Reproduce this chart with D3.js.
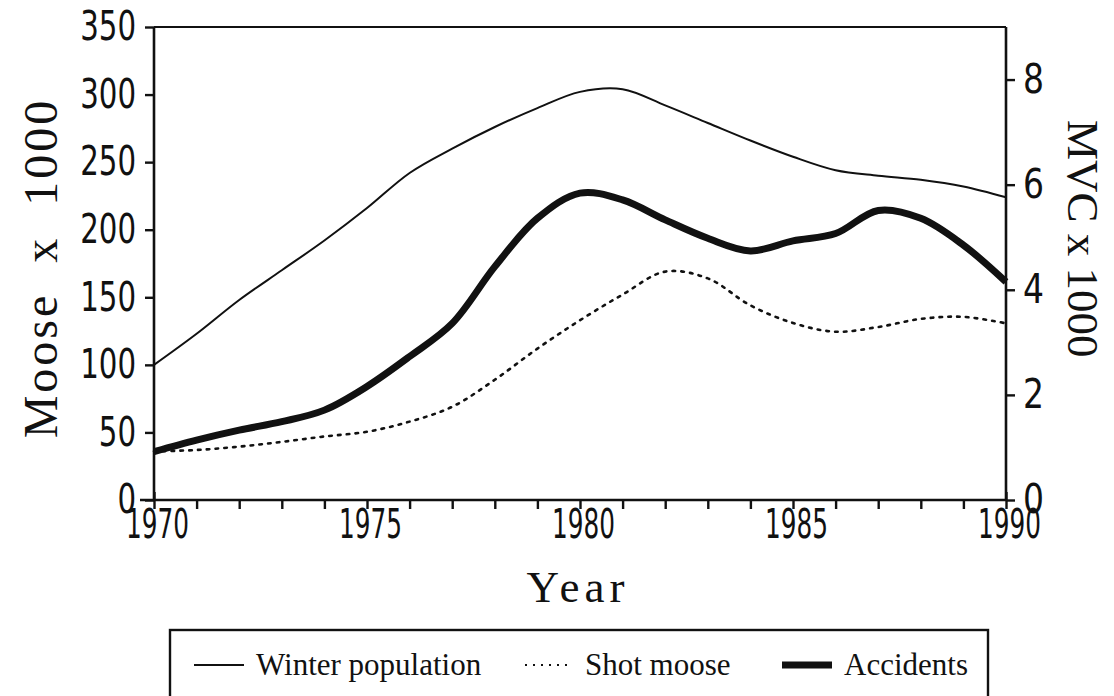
<!DOCTYPE html>
<html>
<head>
<meta charset="utf-8">
<script src="https://cdn.jsdelivr.net/npm/d3@7"></script>
<style>
  body { margin: 0; background: #fff; }
  svg { display: block; }
  .tick text { font-family: "DejaVu Sans Condensed", "DejaVu Sans", sans-serif; font-stretch: condensed; }
  .ttl { font-family: "Liberation Serif", "DejaVu Serif", serif; white-space: pre; }
</style>
</head>
<body>
<svg id="chart" width="1114" height="696"></svg>
<script>
// values (moose in thousands, MVC in thousands)
const years = [1970, 1971, 1972, 1973, 1974, 1975, 1976, 1977, 1978, 1979, 1980,
  1981, 1982, 1983, 1984, 1985, 1986, 1987, 1988, 1989, 1990];
const winterPop = [100, 123, 148, 170, 192, 216, 242, 260, 276, 290, 302,
  304, 292, 279, 266, 254, 244, 240, 237, 232, 224];
const shotMoose = [36, 37, 39.5, 43, 47, 50.5, 58, 69, 89, 112, 133,
  152, 169, 164, 144, 131, 124.5, 128, 134, 135.5, 130.7];
const accidents = [0.92, 1.14, 1.33, 1.49, 1.71, 2.16, 2.73, 3.36, 4.44, 5.36, 5.84,
  5.71, 5.33, 4.98, 4.74, 4.93, 5.07, 5.51, 5.36, 4.85, 4.15];

const leftTicks = [0, 50, 100, 150, 200, 250, 300, 350];
const rightTicks = [0, 2, 4, 6, 8];
const labelYears = [1970, 1975, 1980, 1985, 1990];

const legendItems = [
  { label: 'Winter population', kind: 'winter' },
  { label: 'Shot moose', kind: 'shot' },
  { label: 'Accidents', kind: 'acc' }
];

const svg = d3.select('#chart');
svg.append('rect').attr('width', 1114).attr('height', 696).attr('fill', '#fff');

const pLeft = 154, pRight = 1006, pTop = 27, pBottom = 500;

const x = d3.scaleLinear().domain([1970, 1990]).range([pLeft, pRight]);
const yL = d3.scaleLinear().domain([0, 350]).range([pBottom, pTop]);
const yR = d3.scaleLinear().domain([0, 9]).range([pBottom, pTop]);

const styles = {
  winter: { width: 2, dash: null },
  shot: { width: 2.6, dash: '2.6 6.2' },
  acc: { width: 7, dash: null }
};

// frame top line
svg.append('line')
  .attr('x1', pLeft).attr('x2', pRight)
  .attr('y1', pTop).attr('y2', pTop)
  .attr('stroke', '#111').attr('stroke-width', 2);

// axes
const axL = svg.append('g')
  .attr('transform', `translate(${pLeft},0)`)
  .call(d3.axisLeft(yL).tickValues(leftTicks).tickSize(9).tickSizeOuter(0).tickPadding(9));

const axR = svg.append('g')
  .attr('transform', `translate(${pRight},0)`)
  .call(d3.axisRight(yR).tickValues(rightTicks).tickSize(9).tickSizeOuter(0).tickPadding(8));

const axB = svg.append('g')
  .attr('transform', `translate(0,${pBottom})`)
  .call(d3.axisBottom(x).tickValues(years).tickSize(9).tickSizeOuter(0).tickPadding(0)
    .tickFormat((d) => (labelYears.includes(d) ? d : '')));

[axL, axR, axB].forEach((g) => {
  g.select('.domain').attr('stroke', '#111').attr('stroke-width', 2.6);
  g.selectAll('.tick line').attr('stroke', '#111').attr('stroke-width', 2.4);
  g.selectAll('.tick text').attr('fill', '#111').attr('lengthAdjust', 'spacingAndGlyphs');
});
axL.selectAll('.tick text').attr('font-size', 40)
  .attr('textLength', (d) => String(d).length * 18.6);
axR.selectAll('.tick text').attr('font-size', 40)
  .attr('textLength', 21);
axB.selectAll('.tick text').attr('font-size', 41)
  .attr('x', 3)
  .attr('textLength', (d) => (labelYears.includes(d) ? 63 : null));

axL.select('.domain').attr('d', `M0,${pTop}V${pBottom}`);
axR.select('.domain').attr('d', `M0,${pTop}V${pBottom}`);
axB.select('.domain').attr('d', `M${pLeft - 14},0H${pRight}`);
// ticks at the corners poke both ways
axB.selectAll('.tick line').attr('y1', (d) => (d === 1970 || d === 1990 ? -8 : 0));

// series lines
const line = (yScale) => d3.line()
  .x((d, i) => x(years[i]))
  .y((d) => yScale(d))
  .curve(d3.curveCatmullRom.alpha(0.5));

const series = [
  { values: winterPop, scale: yL, kind: 'winter' },
  { values: shotMoose, scale: yL, kind: 'shot' },
  { values: accidents, scale: yR, kind: 'acc' }
];

svg.append('g').selectAll('path')
  .data(series)
  .join('path')
  .attr('d', (d) => line(d.scale)(d.values))
  .attr('fill', 'none')
  .attr('stroke', '#111')
  .attr('stroke-width', (d) => styles[d.kind].width)
  .attr('stroke-dasharray', (d) => styles[d.kind].dash)
  .attr('stroke-linecap', (d) => (d.kind === 'shot' ? 'round' : 'butt'))
  .attr('stroke-linejoin', 'round');

// axis titles
svg.append('text').attr('class', 'ttl')
  .attr('transform', 'translate(57,268) rotate(-90)')
  .attr('text-anchor', 'middle')
  .attr('font-size', 48).attr('letter-spacing', 3)
  .attr('fill', '#111')
  .text('Moose  x  1000');

svg.append('text').attr('class', 'ttl')
  .attr('transform', 'translate(1068,120) rotate(90)')
  .attr('text-anchor', 'start')
  .attr('font-size', 45).attr('letter-spacing', 0)
  .attr('fill', '#111')
  .text('MVC x 1000');

svg.append('text').attr('class', 'ttl')
  .attr('x', 578).attr('y', 602)
  .attr('text-anchor', 'middle')
  .attr('font-size', 45).attr('letter-spacing', 5)
  .attr('fill', '#111')
  .text('Year');

// legend
const legend = svg.append('g');
legend.append('rect')
  .attr('x', 170).attr('y', 630).attr('width', 818).attr('height', 100)
  .attr('fill', 'none').attr('stroke', '#111').attr('stroke-width', 2.4);

const legendX = [194, 525, 782];
const item = legend.selectAll('g.item')
  .data(legendItems)
  .join('g')
  .attr('class', 'item')
  .attr('transform', (d, i) => `translate(${legendX[i]},0)`);

item.append('line')
  .attr('x1', 0).attr('x2', (d) => (d.kind === 'shot' ? 47 : 50))
  .attr('y1', 665).attr('y2', 665)
  .attr('stroke', '#111')
  .attr('stroke-width', (d) => (d.kind === 'shot' ? 2 : styles[d.kind].width))
  .attr('stroke-dasharray', (d) => (d.kind === 'shot' ? '2 6' : null));

item.append('text')
  .attr('class', 'ttl')
  .attr('x', (d) => (d.kind === 'shot' ? 60 : 62))
  .attr('y', 675)
  .attr('font-size', 31)
  .attr('fill', '#111')
  .text((d) => d.label);
</script>
</body>
</html>
